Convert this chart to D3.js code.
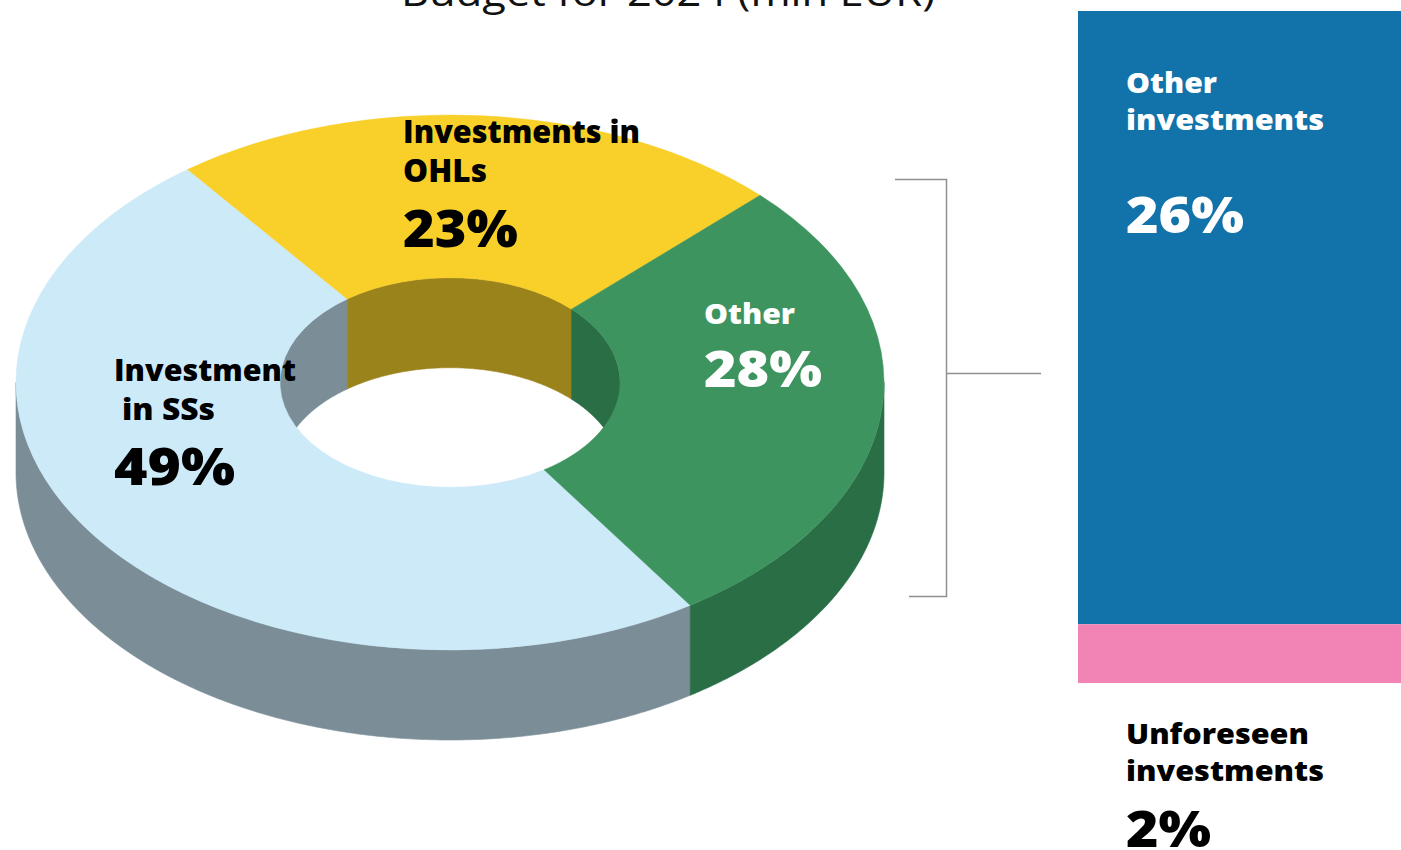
<!DOCTYPE html>
<html>
<head>
<meta charset="utf-8">
<script src="https://cdn.jsdelivr.net/npm/d3@7"></script>
<style>
  html, body { margin: 0; padding: 0; background: #ffffff; }
  svg { display: block; }
  text { font-family: "Open Sans", "DejaVu Sans", sans-serif; }
</style>
</head>
<body>
<svg id="chart"></svg>
<script>
// ── Data ──────────────────────────────────────────────────────────────────────
const TITLE = 'Budget for 2024 (mln EUR)';

// Donut: budget split
const pieCategories = ['Investment in SSs', 'Investments in OHLs', 'Other'];
const pieValues     = [49, 23, 28];

// Breakdown of "Other" (top to bottom)
const barCategories = ['Other investments', 'Unforeseen investments'];
const barValues     = [25.55, 2.45];
const barLabels     = ['26%', '2%'];

// ── Styles ────────────────────────────────────────────────────────────────────
const TOP_COLORS  = ['#cdeaf9', '#f9d02a', '#3e945f'];
const SIDE_COLORS = ['#7b8e98', '#9b831b', '#2a6e46'];
const BAR_COLORS  = ['#1173aa', '#f284b5'];

const W = 1401, H = 850;

// Donut geometry (ellipse = circle squashed vertically)
const G = { cx: 450, cy: 382.5, rx: 434, ri: 170, k: 267.5 / 434, depth: 90 };
const START = 146.4 * Math.PI / 180;

const svg = d3.select('#chart')
  .attr('width', W)
  .attr('height', H)
  .attr('viewBox', `0 0 ${W} ${H}`);

// ── Pie layout ────────────────────────────────────────────────────────────────
const pie = d3.pie()
  .sort(null)
  .startAngle(START)
  .endAngle(START + 2 * Math.PI);

const slices = pie(pieValues).map((d, i) => ({ ...d, i }));

// point on the squashed ellipse; d3 convention (0 = 12 o'clock, clockwise)
const px = (r, a) => G.cx + r * Math.sin(a);
const py = (r, a, dy = 0) => G.cy - r * G.k * Math.cos(a) + dy;

// intersect [a0,a1] with repeated windows [lo + 2πn, hi + 2πn]
function clipRange(a0, a1, lo, hi) {
  const out = [];
  for (let n = -1; n <= 2; n++) {
    const s = Math.max(a0, lo + 2 * Math.PI * n);
    const e = Math.min(a1, hi + 2 * Math.PI * n);
    if (e > s) out.push([s, e]);
  }
  return out;
}

// wall band between the top rim and the same rim pushed down by depth
function wallPath(r, a0, a1) {
  const steps = d3.range(a0, a1, 0.01).concat([a1]);
  const top = steps.map(a => [px(r, a), py(r, a)]);
  const bot = steps.slice().reverse().map(a => [px(r, a), py(r, a, G.depth)]);
  return d3.line()(top.concat(bot)) + 'Z';
}

const walls = [];
slices.forEach(s => {
  // outer wall: front half only
  clipRange(s.startAngle, s.endAngle, Math.PI / 2, 3 * Math.PI / 2)
    .forEach(([a0, a1]) => walls.push({ i: s.i, d: wallPath(G.rx, a0, a1) }));
  // inner wall: back half only (seen through the hole)
  clipRange(s.startAngle, s.endAngle, -Math.PI / 2, Math.PI / 2)
    .forEach(([a0, a1]) => walls.push({ i: s.i, d: wallPath(G.ri, a0, a1) }));
});

svg.append('g')
  .attr('class', 'walls')
  .selectAll('path')
  .data(walls)
  .join('path')
    .attr('d', d => d.d)
    .attr('fill', d => SIDE_COLORS[d.i])
    .attr('stroke', d => SIDE_COLORS[d.i])
    .attr('stroke-width', 0.6);

// ── Top faces ─────────────────────────────────────────────────────────────────
const arcGen = d3.arc()
  .innerRadius(G.ri)
  .outerRadius(G.rx);

svg.append('g')
  .attr('class', 'top')
  .attr('transform', `translate(${G.cx},${G.cy}) scale(1,${G.k})`)
  .selectAll('path')
  .data(slices)
  .join('path')
    .attr('d', arcGen)
    .attr('fill', d => TOP_COLORS[d.i])
    .attr('stroke', d => TOP_COLORS[d.i])
    .attr('stroke-width', 0.6);

// ── Bracket ───────────────────────────────────────────────────────────────────
svg.append('path')
  .attr('d', 'M895,179.5H946.5V596.5H909 M946.5,373.5H1041')
  .attr('fill', 'none')
  .attr('stroke', '#8f8f8f')
  .attr('stroke-width', 1.5);

// ── Stacked bar (first category on top) ───────────────────────────────────────
const y = d3.scaleLinear()
  .domain([0, d3.sum(barValues)])
  .range([11, 683]);

const cum = d3.cumsum(barValues);
const barData = barValues.map((v, i) => ({ i, y0: cum[i] - v, y1: cum[i] }));

svg.append('g')
  .attr('class', 'bar')
  .selectAll('rect')
  .data(barData)
  .join('rect')
    .attr('x', 1078)
    .attr('width', W - 1078)
    .attr('y', d => y(d.y0))
    .attr('height', d => y(d.y1) - y(d.y0))
    .attr('fill', d => BAR_COLORS[d.i]);

// ── Text helper ───────────────────────────────────────────────────────────────
function label(g, txt, x, yy, w, size, fill, weight = 800) {
  const t = g.append('text')
    .attr('x', x)
    .attr('y', yy)
    .attr('font-size', size)
    .attr('font-weight', weight)
    .attr('fill', fill)
    .text(txt);
  if (w) t.attr('textLength', w).attr('lengthAdjust', 'spacingAndGlyphs');
  return t;
}

const fmt = v => `${v}%`;
const labels = svg.append('g').attr('class', 'labels');

// Investment in SSs
label(labels, 'Investment', 114, 381, 182, 30, '#000');
label(labels, 'in SSs',     122, 420,  93, 30, '#000');
label(labels, fmt(pieValues[0]), 114, 485, 121, 52, '#000');

// Investments in OHLs
label(labels, 'Investments in', 403, 143, 237, 31, '#000');
label(labels, 'OHLs',           403, 182,  84, 31, '#000');
label(labels, fmt(pieValues[1]), 403, 247, 115, 52, '#000');

// Other
label(labels, pieCategories[2], 704, 324,  91, 28, '#fff');
label(labels, fmt(pieValues[2]), 704, 387, 118, 50, '#fff');

// Bar labels
label(labels, 'Other',       1126,  93,  91, 28, '#fff');
label(labels, 'investments', 1126, 130, 198, 28, '#fff');
label(labels, barLabels[0],  1126, 233, 118, 50, '#fff');

label(labels, 'Unforeseen',  1126, 744, 183, 29, '#000');
label(labels, 'investments', 1126, 781, 198, 29, '#000');
label(labels, barLabels[1],  1126, 847,  85, 50, '#000');

// ── Title (cropped at the top edge) ───────────────────────────────────────────
label(svg, TITLE, 401, 6, 534, 38, '#111', 400);
</script>
</body>
</html>
